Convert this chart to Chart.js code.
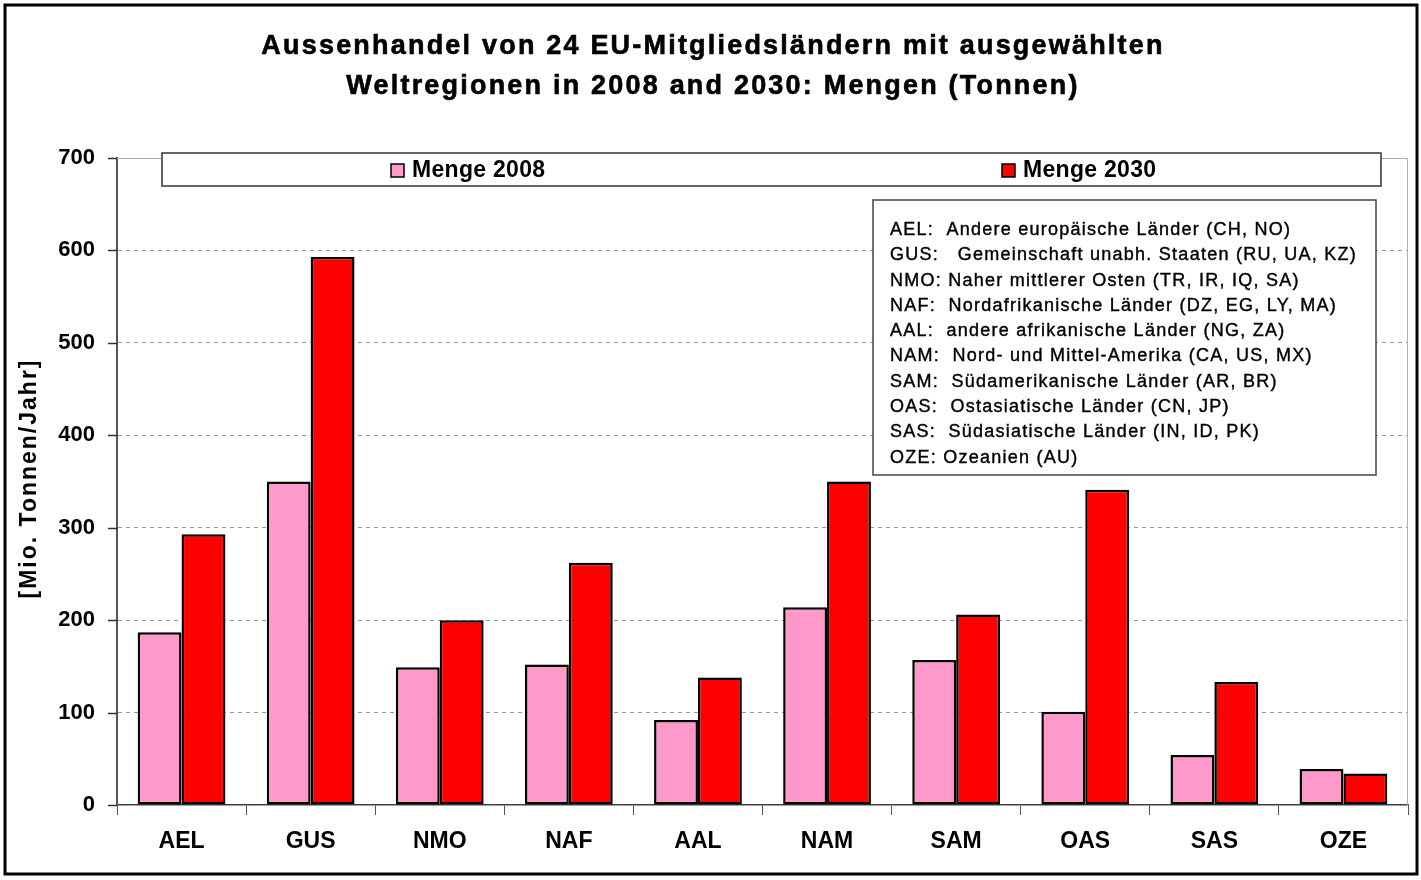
<!DOCTYPE html>
<html>
<head>
<meta charset="utf-8">
<script src="https://cdn.jsdelivr.net/npm/chart.js@4"></script>
<style>
  html, body { margin: 0; padding: 0; background: #fff; }
  #wrap { width: 1421px; height: 880px; }
</style>
</head>
<body>
<div id="wrap"><canvas id="c" width="1421" height="880"></canvas></div>
<script>
const categories = ['AEL', 'GUS', 'NMO', 'NAF', 'AAL', 'NAM', 'SAM', 'OAS', 'SAS', 'OZE'];
const menge2008 = [187, 350, 149, 152, 92, 214, 157, 101, 54, 39];
const menge2030 = [293, 593, 200, 262, 138, 350, 206, 341, 133, 34];
const seriesNames = ['Menge 2008', 'Menge 2030'];
const titleLines = ['Aussenhandel von 24 EU-Mitgliedsländern mit ausgewählten', 'Weltregionen in 2008 and 2030: Mengen (Tonnen)'];
const yAxisTitle = '[Mio. Tonnen/Jahr]';
const yMin = 0, yMax = 700, yStep = 100;
const noteLines = [
  'AEL:  Andere europäische Länder (CH, NO)',
  'GUS:   Gemeinschaft unabh. Staaten (RU, UA, KZ)',
  'NMO: Naher mittlerer Osten (TR, IR, IQ, SA)',
  'NAF:  Nordafrikanische Länder (DZ, EG, LY, MA)',
  'AAL:  andere afrikanische Länder (NG, ZA)',
  'NAM:  Nord- und Mittel-Amerika (CA, US, MX)',
  'SAM:  Südamerikanische Länder (AR, BR)',
  'OAS:  Ostasiatische Länder (CN, JP)',
  'SAS:  Südasiatische Länder (IN, ID, PK)',
  'OZE: Ozeanien (AU)'
];

const FONT = '"Liberation Sans", Arial, sans-serif';
const colors = ['#FF99CC', '#FF0000'];

const decor = {
  id: 'decor',
  beforeDraw(chart) {
    const ctx = chart.ctx;
    ctx.save();
    ctx.fillStyle = '#fff';
    ctx.fillRect(0, 0, chart.width, chart.height);
    ctx.restore();
  },
  beforeDatasetsDraw(chart) {
    const ctx = chart.ctx;
    const a = chart.chartArea;
    ctx.save();
    ctx.strokeStyle = '#b0b0b0';
    ctx.lineWidth = 1;
    ctx.beginPath();
    ctx.moveTo(a.left, a.top + 0.5);
    ctx.lineTo(a.right - 0.5, a.top + 0.5);
    ctx.lineTo(a.right - 0.5, a.bottom);
    ctx.stroke();
    const ys = chart.scales.y;
    ctx.strokeStyle = '#303030';
    ctx.lineWidth = 1.5;
    ys.ticks.forEach(t => {
      const y = Math.round(ys.getPixelForValue(t.value)) + 0.5;
      ctx.beginPath();
      ctx.moveTo(a.left - 9, y);
      ctx.lineTo(a.left, y);
      ctx.stroke();
    });
    ctx.restore();
  },
  afterDraw(chart) {
    const ctx = chart.ctx;
    const a = chart.chartArea;
    const hasLS = ('letterSpacing' in ctx);
    ctx.save();
    ctx.strokeStyle = '#000';
    ctx.lineWidth = 3;
    ctx.strokeRect(5, 5, 1412, 869);

    // title
    ctx.fillStyle = '#000';
    ctx.strokeStyle = '#000';
    ctx.textAlign = 'center';
    ctx.textBaseline = 'middle';
    ctx.font = 'bold 27px ' + FONT;
    ctx.lineWidth = 0.6;
    if (hasLS) ctx.letterSpacing = '2.2px';
    ctx.fillText(titleLines[0], 713, 47);
    ctx.strokeText(titleLines[0], 713, 47);
    ctx.fillText(titleLines[1], 713, 87);
    ctx.strokeText(titleLines[1], 713, 87);

    // y-axis title
    ctx.save();
    ctx.translate(30, (a.top + a.bottom) / 2 - 3);
    ctx.rotate(-Math.PI / 2);
    ctx.font = 'bold 23px ' + FONT;
    if (hasLS) ctx.letterSpacing = '2px';
    ctx.fillText(yAxisTitle, 0, 0);
    ctx.restore();

    // legend box
    if (hasLS) ctx.letterSpacing = '0.3px';
    ctx.fillStyle = '#fff';
    ctx.fillRect(162, 153, 1219, 33);
    ctx.strokeStyle = '#333';
    ctx.lineWidth = 1.5;
    ctx.strokeRect(162, 153, 1219, 33);
    const legX = [391, 1002];
    ctx.font = 'bold 23px ' + FONT;
    ctx.textBaseline = 'middle';
    ctx.textAlign = 'left';
    seriesNames.forEach((n, i) => {
      ctx.fillStyle = colors[i];
      ctx.fillRect(legX[i], 164, 13, 13);
      ctx.strokeStyle = '#000';
      ctx.lineWidth = 1.5;
      ctx.strokeRect(legX[i], 164, 13, 13);
      ctx.fillStyle = '#000';
      ctx.fillText(n, legX[i] + 21, 171);
    });

    // notes box
    ctx.fillStyle = '#fff';
    ctx.fillRect(873, 200, 503, 275);
    ctx.strokeStyle = '#444';
    ctx.lineWidth = 1.5;
    ctx.strokeRect(873, 200, 503, 275);
    ctx.fillStyle = '#000';
    ctx.strokeStyle = '#000';
    ctx.lineWidth = 0.4;
    ctx.font = '18px ' + FONT;
    if (hasLS) ctx.letterSpacing = '1.25px';
    noteLines.forEach((l, i) => {
      ctx.fillText(l, 890, 230 + i * 25.3);
      ctx.strokeText(l, 890, 230 + i * 25.3);
    });
    ctx.restore();
  }
};

new Chart(document.getElementById('c'), {
  type: 'bar',
  data: {
    labels: categories,
    datasets: [
      { label: seriesNames[0], data: menge2008, backgroundColor: colors[0], borderColor: '#000', borderWidth: 2.5, borderSkipped: false,
        categoryPercentage: 0.68, barPercentage: 1.0 },
      { label: seriesNames[1], data: menge2030, backgroundColor: colors[1], borderColor: '#000', borderWidth: 2.5, borderSkipped: false,
        categoryPercentage: 0.68, barPercentage: 1.0 }
    ]
  },
  options: {
    responsive: false,
    animation: false,
    devicePixelRatio: 1,
    layout: { padding: { left: 0, right: 13, top: 158, bottom: 25 } },
    plugins: {
      legend: { display: false },
      tooltip: { enabled: false },
      title: { display: false }
    },
    scales: {
      x: {
        grid: { display: true, drawOnChartArea: false, drawTicks: true, tickLength: 10, color: '#555', lineWidth: 1, offset: true },
        border: { display: true, color: '#404040', width: 1.5 },
        ticks: { color: '#000', font: { family: FONT, size: 23, weight: 'bold' }, padding: 13, maxRotation: 0 },
        afterFit(s) { s.height = 50; }
      },
      y: {
        min: yMin, max: yMax,
        ticks: { stepSize: yStep, color: '#000', font: { family: FONT, size: 22, weight: 'bold' }, padding: 22 },
        grid: {
          drawTicks: false,
          color: ctx => (ctx.tick && (ctx.tick.value === yMin || ctx.tick.value === yMax)) ? 'rgba(0,0,0,0)' : '#999',
          lineWidth: 1
        },
        border: { display: true, color: '#555', width: 2, dash: [4, 4] },
        title: { display: false },
        afterFit(s) { s.width = 117; }
      }
    }
  },
  plugins: [decor]
});
</script>
</body>
</html>
